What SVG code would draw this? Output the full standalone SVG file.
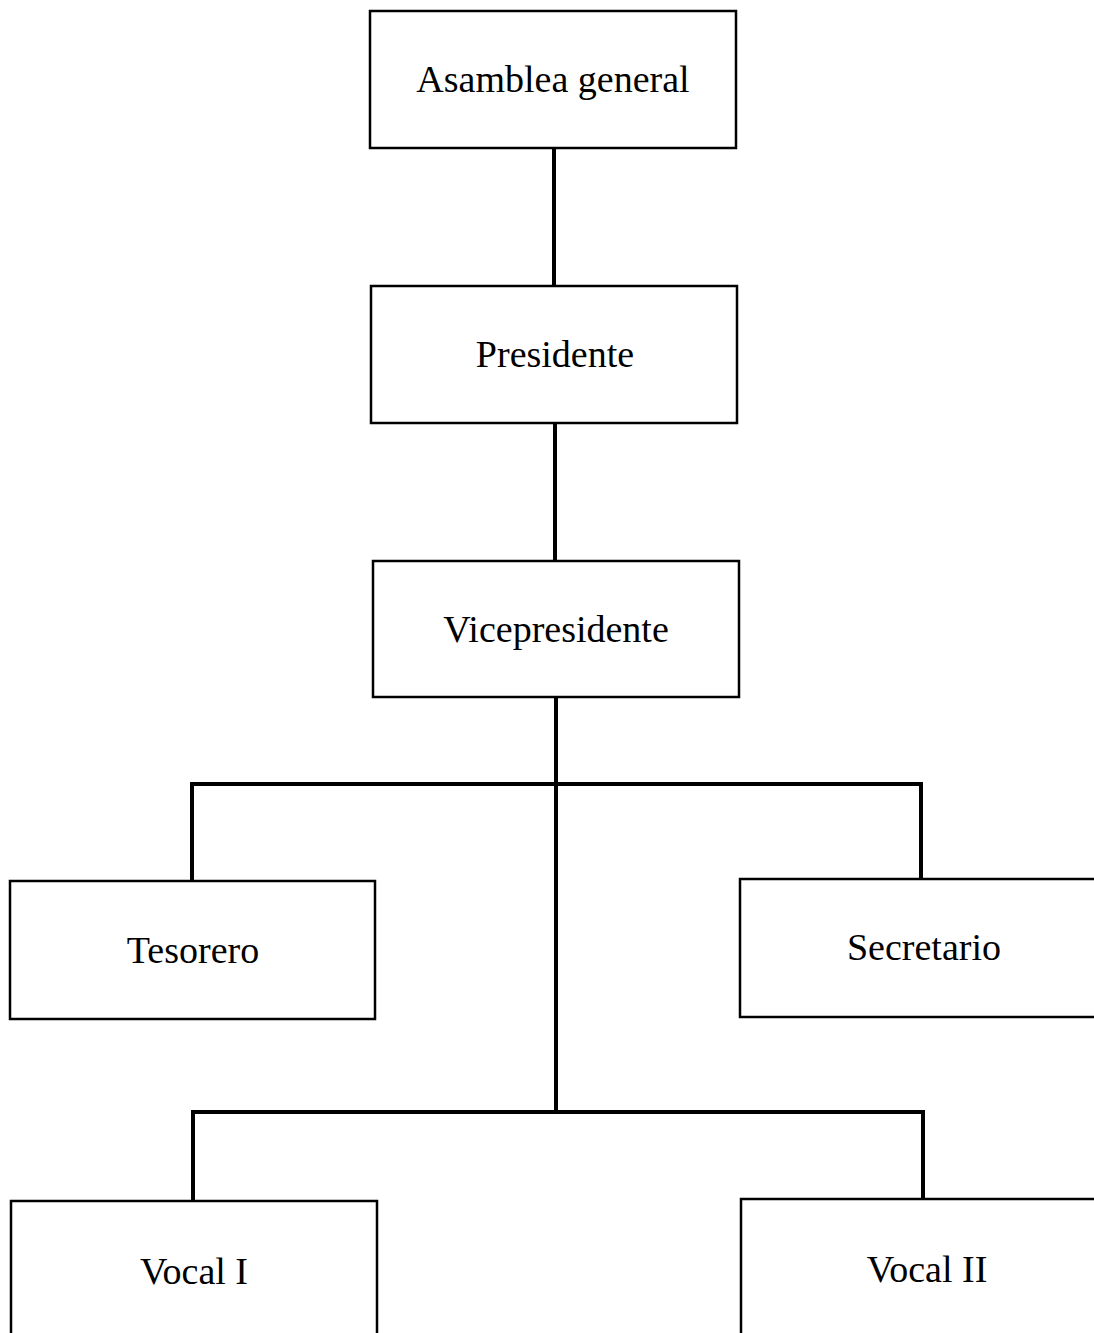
<svg xmlns="http://www.w3.org/2000/svg" width="1094" height="1333" viewBox="0 0 1094 1333">
<style>
.box{fill:#fff;stroke:#000;stroke-width:2.5}
.lbl{font-family:"Liberation Serif","Times New Roman",serif;font-size:38px;fill:#000;text-anchor:middle}
.con{fill:none;stroke:#000;stroke-width:4;stroke-linecap:square}
</style>
<rect width="1094" height="1333" fill="#fff"/>
<g id="connectors">
<line class="con" x1="554" y1="148" x2="554" y2="286"/>
<line class="con" x1="555" y1="423" x2="555" y2="561"/>
<line class="con" x1="556" y1="697" x2="556" y2="1111"/>
<polyline class="con" points="192,881 192,784 921,784 921,879"/>
<polyline class="con" points="193,1201 193,1112 923,1112 923,1199"/>
</g>
<g id="asamblea"><rect class="box" x="370" y="11" width="366" height="137"/><text class="lbl" x="553" y="92">Asamblea general</text></g>
<g id="presidente"><rect class="box" x="371" y="286" width="366" height="137"/><text class="lbl" x="555" y="367">Presidente</text></g>
<g id="vicepresidente"><rect class="box" x="373" y="561" width="366" height="136"/><text class="lbl" x="556" y="642">Vicepresidente</text></g>
<g id="tesorero"><rect class="box" x="10" y="881" width="365" height="138"/><text class="lbl" x="193" y="963">Tesorero</text></g>
<g id="secretario"><rect class="box" x="740" y="879" width="380" height="138"/><text class="lbl" x="924" y="960">Secretario</text></g>
<g id="vocal1"><rect class="box" x="11" y="1201" width="366" height="160"/><text class="lbl" x="194" y="1284">Vocal I</text></g>
<g id="vocal2"><rect class="box" x="741" y="1199" width="380" height="160"/><text class="lbl" x="927" y="1282">Vocal II</text></g>
</svg>
